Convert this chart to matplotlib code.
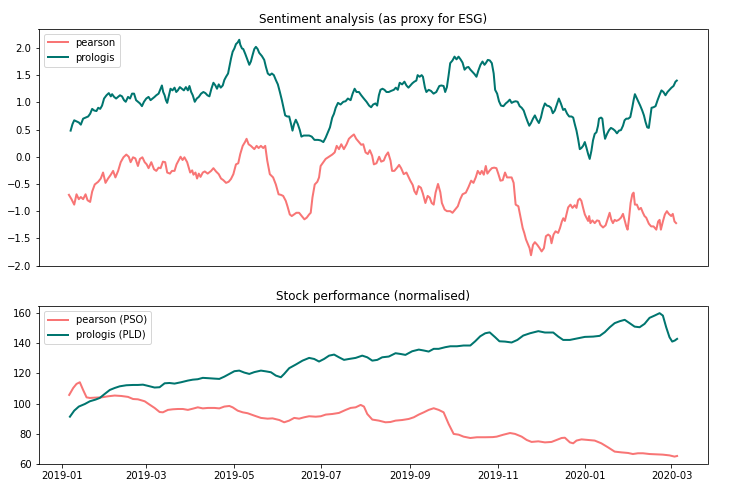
import numpy as np
import pandas as pd
import matplotlib
matplotlib.use("Agg")
import matplotlib.pyplot as plt
import matplotlib.dates as mdates

start_date = "2019-01-01"

# ---- Sentiment (top) ----
pearson_sent_days = [5.1, 6.9, 8.8, 10.4, 12.0, 13.4, 15.0, 16.7, 18.1, 19.9, 21.3, 23.1, 25.5, 27.3, 28.9, 30.6, 32.4, 34.3, 35.9, 37.5, 39.4, 41.2, 43.1, 45.1, 46.8, 48.1, 49.8, 51.4, 53.2, 54.6, 56.3, 57.9, 59.3, 60.6, 62.5, 64.4, 66.0, 67.6, 69.0, 70.6, 72.2, 73.6, 75.5, 76.9, 78.7, 80.1, 81.5, 82.9, 84.3, 85.6, 87.5, 89.6, 91.0, 91.9, 93.3, 94.4, 95.6, 96.8, 98.4, 99.8, 101.8, 104.2, 105.8, 107.6, 109.5, 111.1, 112.7, 114.6, 116.4, 118.0, 119.7, 121.5, 123.1, 124.5, 126.2, 127.8, 128.9, 130.3, 131.9, 134.3, 135.9, 137.3, 138.9, 140.5, 141.9, 143.3, 145.1, 147.4, 149.3, 151.2, 152.8, 154.4, 156.2, 157.4, 159.0, 160.4, 162.0, 163.6, 165.5, 167.4, 169.2, 170.8, 172.5, 173.6, 174.8, 176.4, 178.2, 179.4, 180.5, 182.4, 184.0, 186.3, 188.6, 190.3, 191.7, 193.3, 194.9, 196.7, 198.6, 200.2, 201.8, 203.7, 205.3, 207.2, 208.8, 210.2, 211.8, 213.4, 214.8, 216.4, 217.6, 219.4, 221.3, 222.7, 224.5, 225.9, 227.5, 229.2, 230.3, 231.9, 233.8, 235.2, 236.6, 238.4, 240.3, 241.9, 243.0, 244.7, 245.8, 247.2, 248.8, 250.4, 251.8, 253.5, 255.1, 256.5, 257.9, 259.3, 260.6, 262.3, 263.9, 265.0, 266.9, 268.5, 270.8, 272.4, 274.3, 276.1, 277.8, 279.4, 281.7, 283.5, 285.4, 287.0, 288.6, 290.0, 291.6, 292.8, 294.2, 295.6, 296.7, 298.1, 299.8, 301.4, 303.0, 304.4, 305.8, 307.4, 309.0, 310.4, 311.8, 313.6, 315.0, 316.4, 318.3, 319.9, 321.3, 322.4, 323.6, 324.7, 326.1, 327.1, 328.5, 329.8, 331.5, 333.1, 334.5, 336.1, 337.5, 339.1, 340.5, 341.4, 342.8, 344.2, 346.0, 347.3, 348.6, 349.6, 350.7, 351.8, 353.0, 354.6, 356.0, 357.6, 358.8, 359.9, 361.1, 362.2, 363.4, 364.6, 365.7, 366.9, 367.6, 368.5, 369.9, 371.5, 373.1, 374.5, 375.4, 377.3, 379.1, 380.8, 381.9, 383.1, 384.2, 385.4, 386.6, 388.2, 389.8, 391.2, 392.3, 393.5, 394.4, 395.3, 396.5, 397.7, 398.6, 399.5, 400.9, 402.3, 403.7, 405.1, 406.2, 407.4, 409.2, 410.8, 412.5, 414.4, 415.7, 416.7, 417.6, 419.0, 420.4, 421.8, 423.1, 424.8, 425.9, 427.1, 428.2]
pearson_sent = [-0.70, -0.78, -0.88, -0.69, -0.78, -0.74, -0.78, -0.69, -0.80, -0.83, -0.64, -0.51, -0.46, -0.40, -0.29, -0.48, -0.40, -0.33, -0.26, -0.38, -0.26, -0.10, -0.01, 0.04, 0.00, -0.10, -0.01, -0.03, -0.17, -0.04, -0.01, -0.10, -0.14, -0.21, -0.10, -0.23, -0.26, -0.20, -0.21, -0.09, -0.10, -0.29, -0.31, -0.26, -0.26, -0.14, -0.07, 0.00, -0.06, -0.01, -0.10, -0.29, -0.25, -0.33, -0.29, -0.40, -0.31, -0.37, -0.29, -0.27, -0.31, -0.26, -0.21, -0.27, -0.32, -0.40, -0.43, -0.48, -0.46, -0.41, -0.32, -0.14, -0.12, 0.05, 0.20, 0.27, 0.33, 0.23, 0.20, 0.14, 0.20, 0.16, 0.20, 0.16, 0.20, -0.07, -0.32, -0.38, -0.51, -0.69, -0.70, -0.72, -0.81, -0.91, -1.06, -1.09, -1.06, -1.03, -1.03, -1.09, -1.15, -1.12, -1.06, -1.03, -0.75, -0.51, -0.46, -0.38, -0.17, -0.10, -0.04, 0.00, 0.04, 0.08, 0.20, 0.14, 0.23, 0.14, 0.23, 0.33, 0.37, 0.41, 0.33, 0.27, 0.22, 0.23, 0.08, 0.05, 0.12, 0.02, -0.14, -0.12, 0.00, -0.09, -0.07, 0.02, 0.08, -0.07, -0.26, -0.26, -0.20, -0.15, -0.21, -0.32, -0.29, -0.38, -0.44, -0.52, -0.63, -0.69, -0.54, -0.57, -0.68, -0.85, -0.72, -0.75, -0.85, -0.88, -0.66, -0.50, -0.65, -0.85, -0.97, -1.00, -1.00, -1.03, -0.97, -0.91, -0.78, -0.69, -0.66, -0.56, -0.44, -0.48, -0.38, -0.26, -0.32, -0.26, -0.33, -0.17, -0.31, -0.26, -0.21, -0.20, -0.21, -0.32, -0.44, -0.43, -0.29, -0.38, -0.38, -0.38, -0.48, -0.88, -0.91, -1.12, -1.31, -1.40, -1.52, -1.59, -1.68, -1.81, -1.62, -1.57, -1.62, -1.68, -1.74, -1.68, -1.46, -1.43, -1.46, -1.59, -1.43, -1.37, -1.40, -1.31, -1.19, -1.13, -1.18, -1.06, -0.93, -0.88, -0.94, -0.89, -0.94, -0.80, -0.77, -0.81, -0.94, -1.06, -1.12, -1.18, -1.09, -1.22, -1.17, -1.22, -1.17, -1.18, -1.25, -1.30, -1.26, -1.12, -1.03, -1.16, -1.22, -1.16, -1.18, -1.16, -1.12, -1.05, -1.16, -1.28, -1.34, -1.16, -0.85, -0.69, -0.66, -0.88, -0.88, -0.97, -0.94, -1.03, -1.09, -1.12, -1.23, -1.28, -1.28, -1.34, -1.19, -1.16, -1.34, -1.19, -1.06, -1.00, -1.05, -1.09, -1.05, -1.19, -1.22]

prologis_sent_days = [6.3, 7.6, 8.8, 10.4, 12.0, 13.4, 15.0, 16.7, 18.5, 19.9, 21.3, 22.7, 24.3, 25.5, 26.9, 28.2, 29.6, 31.3, 32.9, 34.3, 35.2, 36.6, 38.0, 39.4, 40.7, 42.1, 43.5, 44.7, 46.3, 47.7, 49.1, 50.5, 51.9, 53.2, 54.6, 56.0, 57.4, 59.0, 60.6, 62.0, 63.4, 64.8, 66.0, 67.6, 69.0, 69.9, 70.8, 71.8, 72.7, 73.6, 74.8, 75.9, 77.3, 78.7, 79.9, 81.0, 82.4, 83.8, 85.2, 86.6, 88.0, 89.1, 90.3, 91.4, 92.8, 94.2, 95.6, 97.2, 98.8, 100.2, 101.6, 103.0, 104.4, 105.8, 107.2, 108.3, 109.5, 110.9, 112.3, 113.4, 114.6, 116.0, 116.9, 118.1, 119.2, 120.4, 121.5, 122.7, 123.8, 124.5, 125.7, 126.6, 128.0, 129.4, 130.8, 131.9, 133.1, 134.3, 135.4, 136.6, 137.7, 139.6, 141.2, 142.4, 143.7, 145.1, 146.5, 147.9, 149.3, 150.7, 152.1, 153.5, 154.6, 155.8, 157.2, 158.6, 159.9, 160.9, 162.0, 163.2, 164.6, 166.0, 167.1, 168.7, 170.6, 172.5, 174.3, 176.2, 178.7, 180.5, 182.4, 184.0, 185.6, 187.0, 188.6, 189.8, 191.0, 192.6, 194.4, 196.3, 197.9, 199.5, 201.4, 202.8, 204.2, 205.5, 207.2, 208.8, 210.6, 212.5, 214.3, 215.7, 217.1, 218.7, 219.9, 221.1, 222.2, 223.6, 225.0, 226.4, 228.0, 229.6, 231.5, 232.9, 234.3, 235.6, 237.3, 238.9, 240.3, 241.7, 243.0, 244.4, 245.8, 247.2, 248.1, 249.5, 250.9, 251.8, 253.2, 254.2, 255.8, 257.4, 259.2, 261.1, 263.2, 264.6, 266.2, 267.3, 268.5, 269.7, 270.8, 272.4, 273.8, 275.2, 276.6, 278.0, 279.4, 280.8, 282.2, 283.5, 284.9, 286.3, 287.7, 289.1, 290.5, 291.9, 293.3, 294.7, 295.6, 297.0, 298.4, 299.8, 301.1, 302.1, 303.5, 304.8, 306.2, 307.9, 309.5, 310.9, 312.3, 313.6, 315.0, 316.4, 317.8, 319.2, 320.6, 322.0, 323.4, 324.8, 325.9, 327.1, 328.5, 329.8, 331.2, 332.6, 334.0, 335.4, 336.8, 338.2, 339.6, 341.0, 342.3, 343.7, 345.1, 346.5, 347.9, 349.5, 350.7, 352.3, 353.7, 355.3, 356.5, 357.6, 358.8, 359.9, 361.1, 362.2, 363.4, 364.6, 365.7, 366.9, 368.0, 369.2, 370.3, 371.5, 372.7, 373.8, 374.5, 375.9, 376.8, 377.8, 378.7, 380.1, 381.5, 382.8, 384.2, 385.6, 387.0, 388.4, 389.8, 391.2, 392.3, 393.5, 394.9, 396.3, 397.7, 398.6, 399.5, 400.4, 401.8, 403.2, 404.6, 405.8, 406.9, 408.1, 409.2, 410.2, 411.1, 412.5, 413.9, 415.3, 416.6, 418.0, 419.4, 420.8, 422.2, 423.6, 425.0, 426.4, 427.8, 428.7]
prologis_sent = [0.48, 0.60, 0.67, 0.65, 0.63, 0.59, 0.70, 0.72, 0.74, 0.79, 0.88, 0.85, 0.84, 0.90, 0.88, 0.94, 1.07, 1.13, 1.17, 1.11, 1.15, 1.10, 1.07, 1.10, 1.13, 1.11, 1.04, 1.01, 1.10, 1.07, 1.16, 1.16, 1.04, 1.01, 0.98, 0.93, 1.01, 1.07, 1.10, 1.04, 1.07, 1.10, 1.13, 1.16, 1.25, 1.31, 1.19, 1.13, 1.04, 0.99, 1.13, 1.25, 1.22, 1.27, 1.19, 1.22, 1.28, 1.25, 1.22, 1.28, 1.22, 1.30, 1.19, 1.13, 1.01, 1.07, 1.10, 1.16, 1.19, 1.17, 1.13, 1.11, 1.25, 1.36, 1.31, 1.25, 1.33, 1.27, 1.31, 1.41, 1.47, 1.53, 1.65, 1.81, 1.93, 1.99, 2.07, 2.10, 2.15, 2.06, 1.99, 1.98, 1.89, 1.79, 1.69, 1.75, 1.87, 1.98, 2.02, 1.98, 1.91, 1.85, 1.78, 1.65, 1.53, 1.50, 1.53, 1.50, 1.41, 1.33, 1.19, 1.04, 0.91, 0.76, 0.74, 0.74, 0.60, 0.48, 0.60, 0.68, 0.60, 0.49, 0.37, 0.39, 0.39, 0.39, 0.37, 0.31, 0.31, 0.30, 0.27, 0.35, 0.45, 0.54, 0.72, 0.79, 0.90, 0.99, 0.96, 1.01, 1.02, 1.07, 1.04, 1.16, 1.25, 1.19, 1.19, 1.13, 1.07, 1.01, 0.94, 0.91, 0.96, 0.98, 0.94, 1.13, 1.23, 1.25, 1.23, 1.19, 1.19, 1.21, 1.23, 1.27, 1.23, 1.36, 1.33, 1.38, 1.31, 1.27, 1.31, 1.35, 1.38, 1.40, 1.50, 1.47, 1.50, 1.47, 1.27, 1.19, 1.23, 1.21, 1.16, 1.19, 1.30, 1.31, 1.30, 1.19, 1.28, 1.50, 1.72, 1.77, 1.84, 1.79, 1.84, 1.79, 1.73, 1.60, 1.64, 1.65, 1.60, 1.56, 1.52, 1.47, 1.59, 1.69, 1.75, 1.69, 1.72, 1.78, 1.77, 1.72, 1.53, 1.23, 1.16, 1.02, 0.94, 0.93, 0.98, 1.01, 1.05, 0.99, 1.01, 1.02, 1.01, 0.93, 0.90, 0.85, 0.74, 0.64, 0.57, 0.62, 0.70, 0.76, 0.68, 0.62, 0.72, 0.88, 0.98, 0.94, 0.93, 0.90, 0.80, 0.85, 0.96, 1.07, 0.98, 0.86, 0.88, 0.79, 0.74, 0.74, 0.72, 0.60, 0.48, 0.33, 0.14, 0.16, 0.20, 0.27, 0.17, 0.05, -0.04, 0.11, 0.30, 0.42, 0.45, 0.57, 0.70, 0.72, 0.70, 0.48, 0.33, 0.42, 0.49, 0.53, 0.51, 0.48, 0.43, 0.48, 0.49, 0.57, 0.67, 0.70, 0.70, 0.73, 0.91, 1.04, 1.15, 1.10, 1.02, 0.94, 0.85, 0.76, 0.64, 0.54, 0.53, 0.73, 0.90, 0.91, 0.93, 1.04, 1.13, 1.22, 1.19, 1.13, 1.19, 1.23, 1.27, 1.30, 1.38, 1.40]

# ---- Stock performance (bottom) ----
pso_days = [5.3, 8.1, 10.4, 12.7, 15.0, 17.4, 19.7, 23.1, 27.8, 32.4, 37.0, 41.7, 46.3, 49.8, 53.2, 57.9, 61.3, 64.8, 68.3, 70.6, 74.1, 77.5, 81.0, 84.5, 88.0, 91.4, 94.9, 98.4, 101.9, 106.5, 109.9, 113.4, 116.9, 119.2, 122.7, 126.2, 129.6, 134.3, 138.9, 143.5, 147.0, 151.7, 155.1, 158.6, 162.1, 165.5, 169.0, 172.5, 177.1, 180.6, 184.1, 188.7, 193.3, 198.0, 201.4, 204.9, 208.4, 210.7, 213.0, 216.5, 221.1, 225.7, 229.2, 232.7, 237.3, 241.9, 245.4, 248.9, 252.4, 255.8, 259.3, 262.8, 266.2, 269.7, 273.2, 276.7, 280.1, 284.8, 289.4, 295.2, 300.5, 303.2, 307.9, 312.5, 316.0, 320.6, 324.1, 327.5, 332.2, 336.8, 341.4, 344.9, 348.4, 350.7, 354.2, 356.5, 358.8, 362.3, 366.9, 371.5, 376.1, 380.8, 385.4, 390.0, 394.7, 398.1, 401.6, 405.1, 409.7, 414.3, 418.9, 423.6, 427.1, 428.9]
pso_perf = [105.7, 110.3, 113.0, 114.1, 109.0, 104.1, 103.7, 103.9, 104.1, 104.8, 105.3, 105.0, 104.4, 103.0, 102.8, 101.5, 99.3, 97.1, 94.4, 94.2, 95.8, 96.2, 96.4, 96.4, 95.8, 96.6, 97.5, 96.8, 97.1, 97.1, 96.8, 98.0, 98.4, 97.5, 95.3, 94.2, 93.6, 92.0, 90.5, 90.0, 90.2, 89.1, 87.6, 88.7, 90.5, 90.0, 90.9, 91.6, 91.3, 91.6, 92.7, 93.1, 93.8, 95.8, 97.1, 97.5, 99.1, 98.0, 93.1, 89.4, 88.7, 87.6, 87.8, 88.7, 89.1, 89.8, 90.9, 92.7, 94.2, 95.8, 96.9, 95.8, 94.2, 86.5, 79.9, 79.4, 78.1, 77.2, 77.7, 77.7, 77.8, 78.1, 79.4, 80.5, 79.9, 78.1, 75.9, 74.6, 75.0, 74.3, 74.6, 75.9, 77.2, 77.4, 74.3, 73.7, 75.5, 76.3, 75.9, 75.5, 73.7, 71.0, 68.2, 67.7, 67.3, 66.6, 67.1, 67.1, 66.6, 66.4, 66.2, 65.7, 64.9, 65.3]

pld_days = [5.8, 8.8, 12.0, 16.2, 19.7, 23.6, 26.6, 30.1, 33.6, 37.0, 40.5, 45.1, 49.8, 53.2, 56.7, 60.2, 64.8, 68.3, 71.8, 75.2, 78.7, 83.3, 88.0, 91.4, 94.9, 98.4, 101.9, 106.5, 109.9, 113.4, 116.9, 120.4, 123.8, 127.3, 130.8, 134.3, 138.9, 142.4, 145.9, 149.3, 152.8, 155.1, 158.6, 163.2, 167.9, 172.5, 176.0, 179.4, 182.9, 186.4, 189.9, 193.3, 196.8, 200.3, 204.9, 209.5, 213.0, 216.5, 220.0, 223.4, 228.0, 232.7, 236.2, 239.6, 244.3, 248.9, 252.4, 255.8, 259.3, 262.8, 267.4, 270.9, 275.5, 280.1, 284.8, 288.2, 291.7, 295.2, 298.3, 302.1, 305.1, 309.0, 313.6, 317.6, 321.7, 326.4, 332.2, 336.8, 342.6, 346.1, 349.5, 354.2, 359.9, 364.6, 370.4, 375.0, 378.5, 382.0, 385.4, 389.0, 392.4, 395.8, 399.3, 402.8, 406.2, 409.7, 413.2, 416.7, 419.0, 421.3, 423.6, 425.5, 427.3, 428.9]
pld_perf = [91.3, 95.3, 98.0, 99.7, 101.5, 102.6, 103.7, 106.4, 109.0, 110.3, 111.4, 112.1, 112.3, 112.3, 112.5, 111.7, 110.6, 110.8, 113.4, 113.6, 113.2, 114.1, 115.2, 115.8, 116.1, 117.0, 116.8, 116.5, 116.3, 117.8, 119.6, 121.4, 121.8, 120.5, 119.6, 120.8, 121.8, 121.3, 120.7, 118.5, 117.4, 119.6, 123.4, 125.8, 128.4, 130.2, 129.5, 127.8, 129.5, 131.7, 132.4, 130.6, 128.9, 129.5, 130.2, 131.7, 130.6, 128.4, 128.9, 130.6, 131.1, 133.3, 132.8, 132.2, 134.6, 135.7, 135.1, 134.4, 136.2, 136.2, 137.3, 137.9, 137.9, 138.4, 138.4, 141.2, 144.5, 146.5, 147.1, 143.9, 141.2, 141.0, 140.4, 142.1, 145.0, 146.5, 147.9, 147.0, 147.0, 144.3, 142.1, 142.1, 143.2, 144.1, 144.3, 144.8, 147.2, 150.5, 153.2, 154.5, 155.4, 153.2, 150.9, 150.5, 152.7, 156.7, 158.2, 159.8, 158.2, 150.5, 143.9, 141.0, 141.7, 142.8]

labels_top = ["pearson", "prologis"]
labels_bottom = ["pearson (PSO)", "prologis (PLD)"]
titles = ["Sentiment analysis (as proxy for ESG)", "Stock performance (normalised)"]

c_pearson = "#f87575"
c_prologis = "#00756f"

def to_dates(days):
    return pd.Timestamp(start_date) + pd.to_timedelta(np.array(days), unit="D")

fig = plt.figure(figsize=(730 / 72, 497 / 72), dpi=72)
ax1 = fig.add_axes([38.5 / 730, 1 - 266 / 497, 669 / 730, 237 / 497])
ax2 = fig.add_axes([38.5 / 730, 1 - 464 / 497, 669 / 730, 158 / 497], sharex=ax1)

ax1.plot(to_dates(pearson_sent_days), pearson_sent, color=c_pearson, lw=2, label=labels_top[0])
ax1.plot(to_dates(prologis_sent_days), prologis_sent, color=c_prologis, lw=2, label=labels_top[1])
ax1.set_title(titles[0], fontsize=12)
ax1.legend(loc="upper left")
ax1.tick_params(axis="x", bottom=False, labelbottom=False)

ax2.plot(to_dates(pso_days), pso_perf, color=c_pearson, lw=2, label=labels_bottom[0])
ax2.plot(to_dates(pld_days), pld_perf, color=c_prologis, lw=2, label=labels_bottom[1])
ax2.set_title(titles[1], fontsize=12)
ax2.legend(loc="upper left")
ax2.set_yticks([60, 80, 100, 120, 140, 160])
ax2.xaxis.set_major_locator(mdates.MonthLocator(bymonth=[1, 3, 5, 7, 9, 11]))
ax2.xaxis.set_major_formatter(mdates.DateFormatter("%Y-%m"))

fig.savefig("out.png", dpi=72)
